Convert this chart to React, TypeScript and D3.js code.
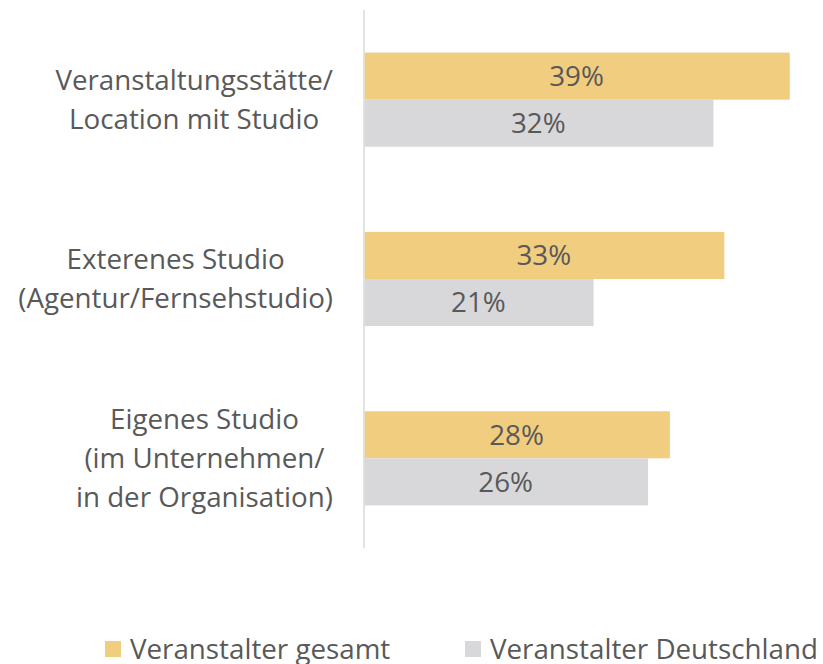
import React, { useEffect, useRef } from "react";
import * as d3 from "d3";

// chart data
const categories = [
  ["Veranstaltungsstätte/", "Location mit Studio"],
  ["Exterenes Studio", "(Agentur/Fernsehstudio)"],
  ["Eigenes Studio", "(im Unternehmen/", "in der Organisation)"],
];
const seriesNames = ["Veranstalter gesamt", "Veranstalter Deutschland"];
const gesamt = [39, 33, 28];
const deutschland = [32, 21, 26];
const colors = ["#F1CD80", "#D8D8DA"];

const width = 823;
const height = 664;
const font = "'Open Sans', sans-serif";
const textColor = "#595959";

const App = () => {
  const ref = useRef<SVGSVGElement>(null);

  useEffect(() => {
    const svg = d3.select(ref.current);
    svg.selectAll("*").remove();

    // fit font size so the long legend label matches the original width (~328px)
    const probe = svg
      .append("text")
      .attr("font-family", font)
      .attr("font-size", 25)
      .text("Veranstalter Deutschland");
    const w = (probe.node() as SVGTextElement).getComputedTextLength();
    probe.remove();
    const fs = w ? (25 * 328) / w : 25;

    const x0 = 364;
    const xScale = d3.scaleLinear().domain([0, 39]).range([x0, 789]);
    const yScale = d3
      .scaleBand()
      .domain(categories.map((c, i) => String(i)))
      .range([10, 548])
      .paddingInner(0.475)
      .paddingOuter(0.2375);
    const sub = d3
      .scaleBand()
      .domain(["0", "1"])
      .range([0, yScale.bandwidth()]);

    // axis line
    svg
      .append("line")
      .attr("x1", x0)
      .attr("x2", x0)
      .attr("y1", 10)
      .attr("y2", 548)
      .attr("stroke", "#D9D9D9")
      .attr("stroke-width", 1.5);

    const values = [gesamt, deutschland];
    values.forEach((vals, s) => {
      vals.forEach((v, i) => {
        const y = yScale(String(i))! + sub(String(s))!;
        svg
          .append("rect")
          .attr("x", x0 + 0.75)
          .attr("y", y)
          .attr("width", xScale(v) - x0)
          .attr("height", sub.bandwidth())
          .attr("fill", colors[s]);
        svg
          .append("text")
          .attr("x", (x0 + xScale(v)) / 2)
          .attr("y", y + sub.bandwidth() / 2)
          .attr("dy", "0.35em")
          .attr("text-anchor", "middle")
          .attr("font-family", font)
          .attr("font-size", fs)
          .attr("fill", textColor)
          .text(`${v}%`);
      });
    });

    // category labels: block right aligned, lines centered in block
    const lineH = 39;
    categories.forEach((lines, i) => {
      const cy = yScale(String(i))! + yScale.bandwidth() / 2;
      const g = svg.append("g");
      const texts = lines.map((l, k) =>
        g
          .append("text")
          .attr("y", cy + (k - (lines.length - 1) / 2) * lineH)
          .attr("dy", "0.35em")
          .attr("text-anchor", "middle")
          .attr("font-family", font)
          .attr("font-size", fs)
          .attr("fill", textColor)
          .text(l)
      );
      const maxW = d3.max(texts, (t) => (t.node() as SVGTextElement).getComputedTextLength()) || 0;
      texts.forEach((t) => t.attr("x", 333 - maxW / 2));
    });

    // legend
    const legendX = [105, 465];
    seriesNames.forEach((name, s) => {
      svg
        .append("rect")
        .attr("x", legendX[s])
        .attr("y", 641)
        .attr("width", 16)
        .attr("height", 16)
        .attr("fill", colors[s]);
      svg
        .append("text")
        .attr("x", legendX[s] + 25)
        .attr("y", 649)
        .attr("dy", "0.35em")
        .attr("font-family", font)
        .attr("font-size", fs)
        .attr("fill", textColor)
        .text(name);
    });
  }, []);

  return (
    <svg
      ref={ref}
      width={width}
      height={height}
      style={{ position: "absolute", left: 0, top: 0, background: "#fff" }}
    ></svg>
  );
};

export default App;
